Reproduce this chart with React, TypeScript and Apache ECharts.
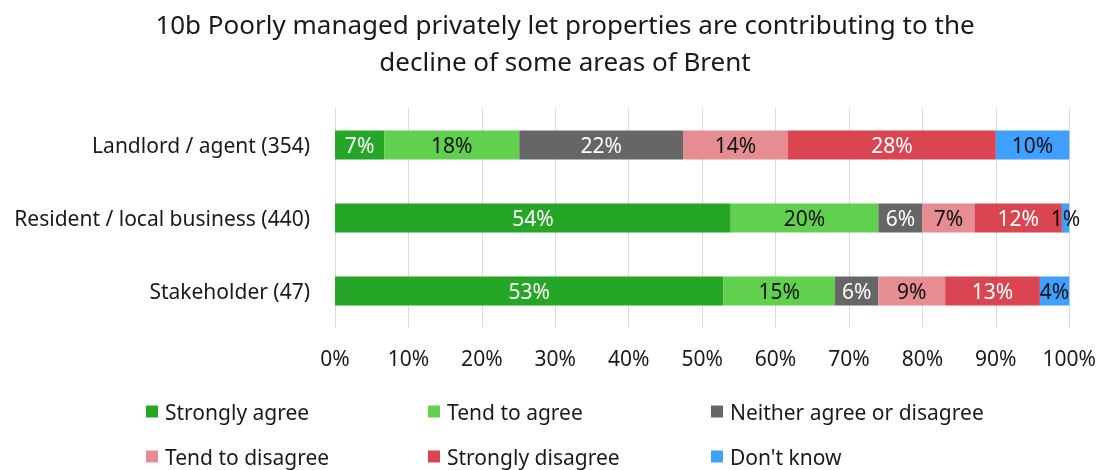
import React, { useEffect, useRef } from "react";
import * as echarts from "echarts";

const titleText = "10b Poorly managed privately let properties are contributing to the\ndecline of some areas of Brent";
const categories = ["Landlord / agent (354)", "Resident / local business (440)", "Stakeholder (47)"];
const seriesNames = ["Strongly agree", "Tend to agree", "Neither agree or disagree", "Tend to disagree", "Strongly disagree", "Don't know"];
const stronglyAgree = [6.7, 53.9, 52.9];
const tendToAgree = [18.4, 20.1, 15.2];
const neither = [22.3, 6.0, 5.9];
const tendToDisagree = [14.3, 7.1, 9.1];
const stronglyDisagree = [28.3, 11.9, 12.9];
const dontKnow = [10.0, 1.0, 4.0];
const xTicks = [0, 10, 20, 30, 40, 50, 60, 70, 80, 90, 100];

const seriesValues = [stronglyAgree, tendToAgree, neither, tendToDisagree, stronglyDisagree, dontKnow];
const colors = ["#26A626", "#62D04F", "#666666", "#E68C93", "#D94550", "#3FA0FF"];
const labelColors = ["#ffffff", "#111111", "#ffffff", "#111111", "#ffffff", "#111111"];
const FONT = "Noto Sans";

const legendPos = [
  { left: 146, top: 401 },
  { left: 428, top: 401 },
  { left: 711, top: 401 },
  { left: 146, top: 446 },
  { left: 428, top: 446 },
  { left: 711, top: 446 },
];

export default function App() {
  const ref = useRef<HTMLDivElement>(null);
  useEffect(() => {
    if (!ref.current) return;
    const chart = echarts.init(ref.current, undefined, { renderer: "svg" });
    chart.setOption({
      animation: false,
      textStyle: { fontFamily: FONT },
      title: {
        text: titleText,
        left: 560,
        textAlign: "center",
        top: 0,
        textStyle: { fontFamily: FONT, fontSize: 26, fontWeight: "normal", color: "#1a1a1a", lineHeight: 37 },
      },
      legend: seriesNames.map((n, i) => ({
        data: [n],
        left: legendPos[i].left,
        top: legendPos[i].top,
        padding: 0,
        icon: "rect",
        itemWidth: 12,
        itemHeight: 12,
        selectedMode: false,
        textStyle: { fontFamily: FONT, fontSize: 21, color: "#1a1a1a", padding: [0, 0, 0, 2] },
      })),
      grid: { left: 335, right: 28, top: 108.5, bottom: 142.5 },
      xAxis: {
        type: "value",
        min: xTicks[0],
        max: xTicks[xTicks.length - 1],
        interval: 10,
        axisLine: { show: false },
        axisTick: { show: false },
        splitLine: { show: true, lineStyle: { color: "#d9d9d9", width: 1 } },
        axisLabel: { formatter: "{value}%", fontFamily: FONT, fontSize: 21, color: "#1a1a1a", margin: 20 },
      },
      yAxis: {
        type: "category",
        data: categories,
        inverse: true,
        axisLine: { show: false },
        axisTick: { show: false },
        axisLabel: { fontFamily: FONT, fontSize: 21, color: "#1a1a1a", margin: 25 },
      },
      series: seriesNames.map((n, i) => ({
        name: n,
        type: "bar",
        stack: "total",
        barCategoryGap: "60%",
        data: seriesValues[i],
        itemStyle: { color: colors[i] },
        label: {
          show: true,
          position: "inside",
          formatter: (p: any) => Math.round(p.value) + "%",
          fontFamily: FONT,
          fontSize: 21,
          color: labelColors[i],
        },
      })),
    });
    return () => chart.dispose();
  }, []);
  return <div ref={ref} style={{ position: "fixed", left: 0, top: 0, width: 1099, height: 470 }} />;
}
